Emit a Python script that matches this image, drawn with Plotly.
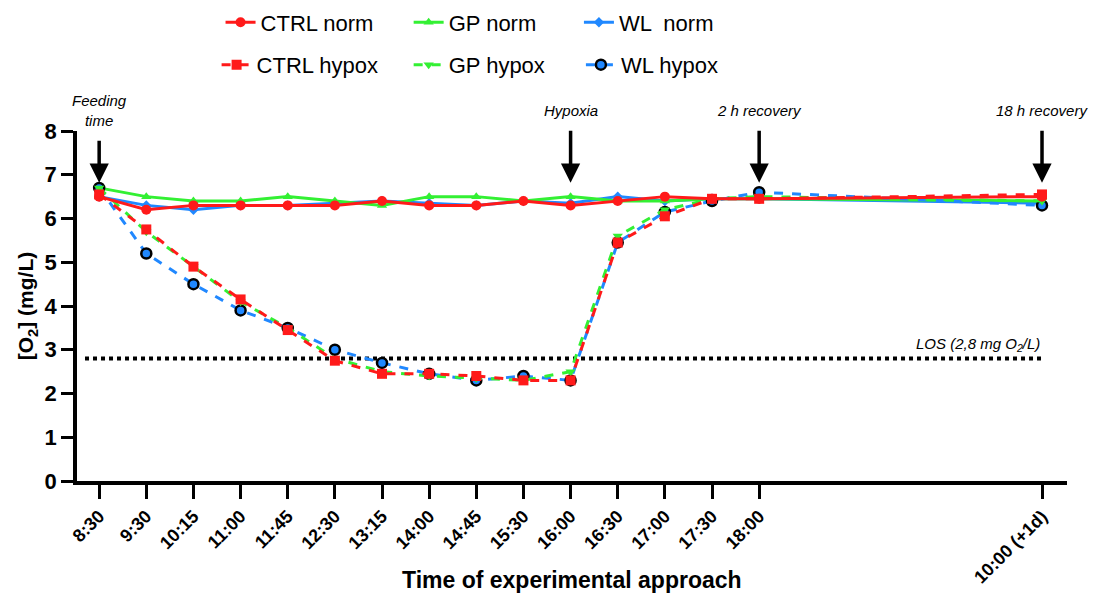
import plotly.graph_objects as go

# Sampling times (categorical positions; the next-day point sits after a gap)
time_labels = ["8:30", "9:30", "10:15", "11:00", "11:45", "12:30", "13:15", "14:00",
               "14:45", "15:30", "16:00", "16:30", "17:00", "17:30", "18:00", "10:00 (+1d)"]
time_pos = [0, 1, 2, 3, 4, 5, 6, 7, 8, 9, 10, 11, 12, 13, 14, 20]

# Dissolved oxygen (mg/L)
ctrl_norm = [6.5, 6.2, 6.3, 6.3, 6.3, 6.3, 6.4, 6.3, 6.3, 6.4, 6.3, 6.4, 6.5, 6.45, 6.45, 6.5]
gp_norm = [6.7, 6.5, 6.4, 6.4, 6.5, 6.4, 6.3, 6.5, 6.5, 6.4, 6.5, 6.4, 6.4, 6.45, 6.45, 6.4]
wl_norm = [6.5, 6.3, 6.2, 6.3, 6.3, 6.35, 6.4, 6.35, 6.3, 6.4, 6.35, 6.5, 6.4, 6.45, 6.45, 6.35]
ctrl_hypox = [6.55, 5.75, 4.9, 4.15, 3.45, 2.75, 2.45, 2.45, 2.4, 2.3, 2.3, 5.45, 6.05, 6.45, 6.45, 6.55]
gp_hypox = [6.7, 5.7, 4.9, 4.1, 3.5, 2.8, 2.5, 2.4, 2.35, 2.3, 2.5, 5.6, 6.2, 6.45, 6.5, 6.4]
wl_hypox = [6.7, 5.2, 4.5, 3.9, 3.5, 3.0, 2.7, 2.45, 2.3, 2.4, 2.3, 5.45, 6.15, 6.4, 6.6, 6.3]

los_value = 2.8
events = [(0, "Feeding<br>time"), (10, "Hypoxia"), (14, "2 h recovery"), (20, "18 h recovery")]

RED = "#ff1a1a"
GREEN = "#33f033"
BLUE = "#2088ff"
FONT = "Liberation Sans, Arial, sans-serif"

fig = go.Figure()

# LOS threshold
fig.add_trace(go.Scatter(
    x=[time_pos[0] - 0.3, time_pos[-1]], y=[los_value, los_value], mode="lines",
    line=dict(color="black", width=4, dash="dot"), showlegend=False, hoverinfo="skip"))

series = [
    # name, y, color, symbol, size, dash, legend id, outline
    ("WL  norm", wl_norm, BLUE, "diamond", 8, "solid", "legend3", None),
    ("GP norm", gp_norm, GREEN, "triangle-up", 9, "solid", "legend2", None),
    ("WL hypox", wl_hypox, BLUE, "circle", 10, "dash", "legend6", "black"),
    ("GP hypox", gp_hypox, GREEN, "triangle-down", 9, "dash", "legend5", None),
    ("CTRL hypox", ctrl_hypox, RED, "square", 10, "dash", "legend4", None),
    ("CTRL norm", ctrl_norm, RED, "circle", 10, "solid", "legend", None),
]
for name, ys, color, symbol, size, dash, leg, outline in series:
    marker = dict(color=color, symbol=symbol, size=size)
    if outline:
        marker["line"] = dict(color=outline, width=2.5)
    fig.add_trace(go.Scatter(
        x=time_pos, y=ys, name=name, mode="lines+markers",
        line=dict(color=color, width=3, dash=dash), marker=marker, legend=leg))

# Event arrows with their labels at the tail
for pos, label in events:
    fig.add_annotation(x=pos, y=6.82, xref="x", yref="y", ax=0, ay=-72,
                       text=f"<i>{label}</i>", showarrow=True, startstandoff=10,
                       arrowhead=2, arrowsize=1.1, arrowwidth=3.5, arrowcolor="black",
                       font=dict(size=15, color="black", family=FONT))

fig.add_annotation(x=time_pos[-1], y=los_value, xref="x", yref="y", xanchor="right",
                   yanchor="bottom", yshift=3, showarrow=False,
                   text="<i>LOS (2,8 mg O<sub>2</sub>/L)</i>",
                   font=dict(size=15, color="black", family=FONT))

# X-axis title, placed below the rotated tick labels
fig.add_annotation(x=0.5, y=-0.283, xref="paper", yref="paper", yanchor="middle",
                   showarrow=False, text="<b>Time of experimental approach</b>",
                   font=dict(size=23, color="black", family=FONT))

legend_common = dict(orientation="h", xanchor="left", yanchor="middle",
                     font=dict(size=22, color="black", family=FONT),
                     bgcolor="rgba(0,0,0,0)")
legend_pos = {
    "legend": (0.145, 1.31), "legend2": (0.335, 1.31), "legend3": (0.507, 1.31),
    "legend4": (0.141, 1.189), "legend5": (0.335, 1.189), "legend6": (0.509, 1.189),
}
legends = {k: dict(x=x, y=y, **legend_common) for k, (x, y) in legend_pos.items()}

fig.update_layout(
    width=1096, height=594,
    margin=dict(l=77, r=29, t=131, b=113, autoexpand=False),
    paper_bgcolor="white", plot_bgcolor="white",
    font=dict(family=FONT, color="black"),
    **legends,
    xaxis=dict(
        range=[-0.47, 20.53], tickmode="array", tickvals=time_pos, ticktext=time_labels,
        tickangle=-45, ticks="outside", ticklen=14, tickwidth=3, tickcolor="black",
        showline=True, linewidth=3.5, linecolor="black", showgrid=False, zeroline=False,
        automargin=False, tickfont=dict(size=18, family=FONT, weight="bold")),
    yaxis=dict(
        range=[0, 8], tickmode="linear", dtick=1, ticks="outside", ticklen=12,
        tickwidth=3, tickcolor="black", showline=True, linewidth=3.5, linecolor="black",
        showgrid=False, zeroline=False, automargin=False,
        tickfont=dict(size=22, family=FONT, weight="bold"),
        title=dict(text="<b>[O<sub>2</sub>] (mg/L)</b>",
                   font=dict(size=21, family=FONT), standoff=6)),
)

fig.write_html("out.html")
